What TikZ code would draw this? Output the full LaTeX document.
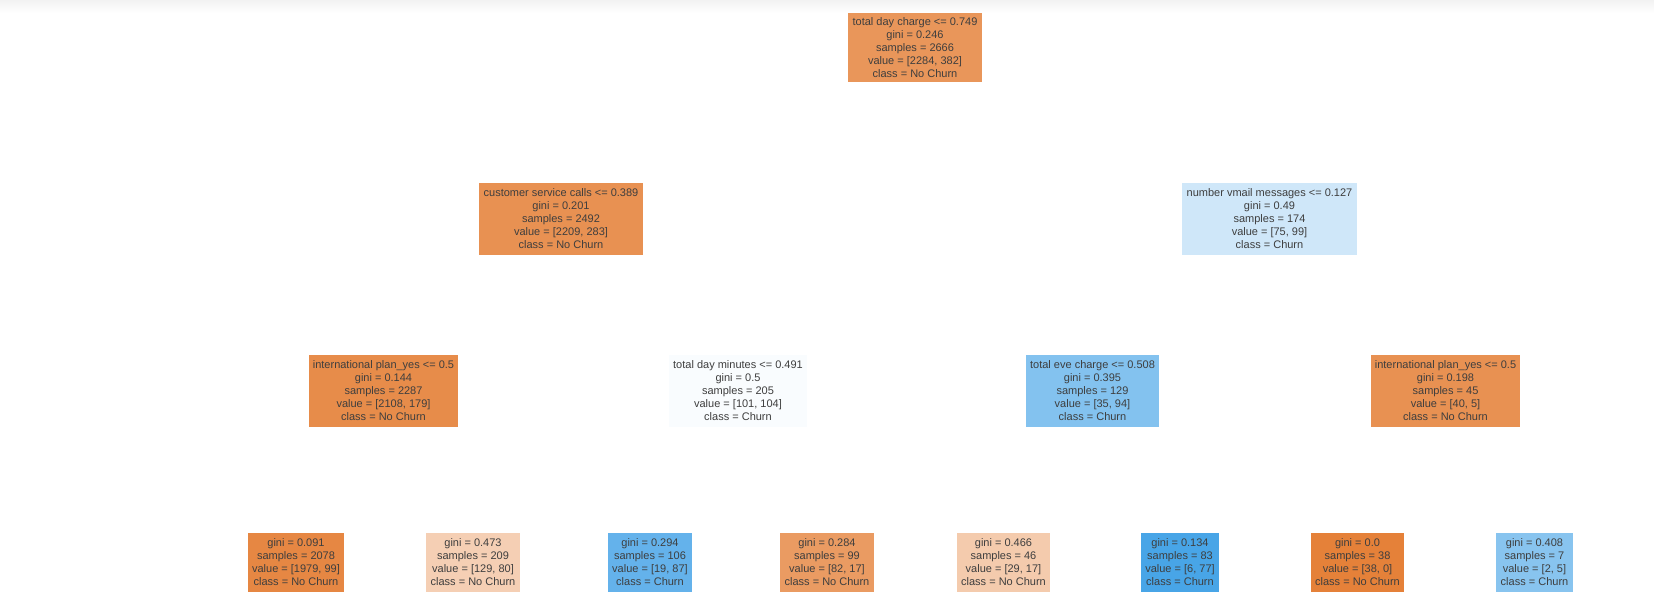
\documentclass[tikz,border=0pt]{standalone}
\usepackage{fontspec}
\setmainfont{Liberation Sans}
\begin{document}
% leaf and split colours: orange = No Churn, blue = Churn, tinted by purity
\definecolor{cRoot}{RGB}{233,150,90}
\definecolor{cA}{RGB}{232,145,82}
\definecolor{cB}{RGB}{207,231,249}
\definecolor{cAA}{RGB}{231,140,74}
\definecolor{cAB}{RGB}{249,252,254}
\definecolor{cBA}{RGB}{131,194,239}
\definecolor{cBB}{RGB}{232,145,82}
\definecolor{cAAA}{RGB}{230,135,67}
\definecolor{cAAB}{RGB}{245,207,180}
\definecolor{cABA}{RGB}{100,178,235}
\definecolor{cABB}{RGB}{234,155,98}
\definecolor{cBAA}{RGB}{244,203,173}
\definecolor{cBAB}{RGB}{72,165,231}
\definecolor{cBBA}{RGB}{229,129,57}
\definecolor{cBBB}{RGB}{136,196,239}
\definecolor{txt}{RGB}{62,62,62}
\begin{tikzpicture}[x=1pt,y=-1pt,
  treenode/.style={rectangle, inner sep=0pt, align=center, text=txt,
    font=\fontsize{11}{13}\selectfont},
  split/.style={treenode, minimum height=72pt},
  leaf/.style={treenode, minimum height=59pt}]
\useasboundingbox (0,0) rectangle (1654,614);
\fill[white] (0,0) rectangle (1654,614);
\shade[top color=black!5, bottom color=white] (0,0) rectangle (1654,13);

% depth 0
\node[split, fill=cRoot, minimum width=134pt, minimum height=69pt] (root) at (915,47.5)
  {total day charge <= 0.749\\gini = 0.246\\samples = 2666\\value = [2284, 382]\\class = No Churn};

% depth 1
\node[split, fill=cA, minimum width=164pt] (a) at (561,218.5)
  {customer service calls <= 0.389\\gini = 0.201\\samples = 2492\\value = [2209, 283]\\class = No Churn};
\node[split, fill=cB, minimum width=175pt] (b) at (1269.5,218.5)
  {number vmail messages <= 0.127\\gini = 0.49\\samples = 174\\value = [75, 99]\\class = Churn};

% depth 2
\node[split, fill=cAA, minimum width=149pt] (aa) at (383.5,391)
  {international plan\_yes <= 0.5\\gini = 0.144\\samples = 2287\\value = [2108, 179]\\class = No Churn};
\node[split, fill=cAB, minimum width=138pt] (ab) at (738,391)
  {total day minutes <= 0.491\\gini = 0.5\\samples = 205\\value = [101, 104]\\class = Churn};
\node[split, fill=cBA, minimum width=133pt] (ba) at (1092.5,391)
  {total eve charge <= 0.508\\gini = 0.395\\samples = 129\\value = [35, 94]\\class = Churn};
\node[split, fill=cBB, minimum width=149pt] (bb) at (1445.5,391)
  {international plan\_yes <= 0.5\\gini = 0.198\\samples = 45\\value = [40, 5]\\class = No Churn};

% depth 3 (leaves)
\node[leaf, fill=cAAA, minimum width=96pt] (aaa) at (296,562.5)
  {gini = 0.091\\samples = 2078\\value = [1979, 99]\\class = No Churn};
\node[leaf, fill=cAAB, minimum width=94pt] (aab) at (473,562.5)
  {gini = 0.473\\samples = 209\\value = [129, 80]\\class = No Churn};
\node[leaf, fill=cABA, minimum width=84pt] (aba) at (650,562.5)
  {gini = 0.294\\samples = 106\\value = [19, 87]\\class = Churn};
\node[leaf, fill=cABB, minimum width=94pt] (abb) at (827,562.5)
  {gini = 0.284\\samples = 99\\value = [82, 17]\\class = No Churn};
\node[leaf, fill=cBAA, minimum width=93pt] (baa) at (1003.5,562.5)
  {gini = 0.466\\samples = 46\\value = [29, 17]\\class = No Churn};
\node[leaf, fill=cBAB, minimum width=78pt] (bab) at (1180,562.5)
  {gini = 0.134\\samples = 83\\value = [6, 77]\\class = Churn};
\node[leaf, fill=cBBA, minimum width=93pt] (bba) at (1357.5,562.5)
  {gini = 0.0\\samples = 38\\value = [38, 0]\\class = No Churn};
\node[leaf, fill=cBBB, minimum width=77pt] (bbb) at (1534.5,562.5)
  {gini = 0.408\\samples = 7\\value = [2, 5]\\class = Churn};
\end{tikzpicture}
\end{document}
